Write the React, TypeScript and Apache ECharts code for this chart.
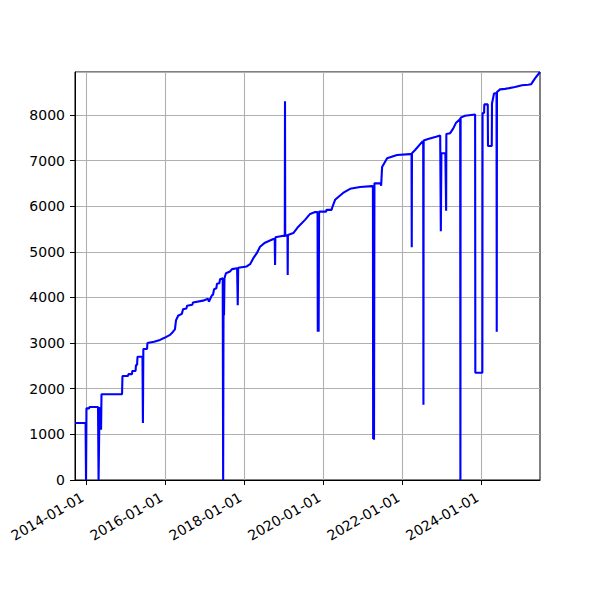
import React, { useEffect, useRef } from "react";
import * as echarts from "echarts";

const dates: string[] = [
  "2013-09-21", "2013-12-28", "2014-01-01", "2014-01-05", "2014-01-29", "2014-02-02",
  "2014-04-22", "2014-04-27", "2014-05-06", "2014-05-10", "2014-05-15", "2014-05-20",
  "2014-05-24", "2014-11-30", "2014-12-04", "2015-01-24", "2015-01-28", "2015-03-02",
  "2015-03-05", "2015-04-04", "2015-04-08", "2015-04-18", "2015-04-22", "2015-06-07",
  "2015-06-11", "2015-06-15", "2015-07-19", "2015-07-23", "2015-09-22", "2015-11-16",
  "2015-12-23", "2016-02-17", "2016-03-16", "2016-04-02", "2016-04-12", "2016-04-25",
  "2016-05-01", "2016-06-05", "2016-06-16", "2016-07-18", "2016-07-23", "2016-09-10",
  "2016-09-16", "2016-12-18", "2017-02-02", "2017-02-11", "2017-03-11", "2017-03-20",
  "2017-03-30", "2017-04-20", "2017-04-26", "2017-05-18", "2017-05-24", "2017-06-18",
  "2017-06-22", "2017-06-26", "2017-06-30", "2017-07-04", "2017-07-18", "2017-08-24",
  "2017-09-12", "2017-10-29", "2017-11-04", "2017-11-08", "2018-01-26", "2018-02-26",
  "2018-03-28", "2018-04-29", "2018-05-29", "2018-07-14", "2018-09-29", "2018-10-12",
  "2018-10-15", "2018-10-18", "2018-12-31", "2019-01-13", "2019-01-15", "2019-01-17",
  "2019-02-07", "2019-02-09", "2019-02-11", "2019-04-02", "2019-05-18", "2019-07-19",
  "2019-09-04", "2019-10-20", "2019-11-12", "2019-11-14", "2019-11-18", "2019-11-22",
  "2019-11-26", "2019-11-30", "2020-01-30", "2020-02-03", "2020-03-21", "2020-03-25",
  "2020-04-22", "2020-07-05", "2020-09-08", "2020-12-09", "2021-03-30", "2021-04-07",
  "2021-04-09", "2021-04-13", "2021-04-17", "2021-04-21", "2021-06-17", "2021-06-22",
  "2021-07-01", "2021-08-16", "2021-11-16", "2022-03-17", "2022-03-30", "2022-04-01",
  "2022-04-03", "2022-05-02", "2022-07-06", "2022-07-16", "2022-07-18", "2022-07-20",
  "2022-08-30", "2022-11-12", "2022-12-20", "2022-12-24", "2022-12-26", "2022-12-31",
  "2023-02-06", "2023-02-11", "2023-02-13", "2023-02-15", "2023-03-22", "2023-04-19",
  "2023-05-16", "2023-06-18", "2023-06-23", "2023-06-25", "2023-06-27", "2023-08-07",
  "2023-11-08", "2023-11-10", "2024-01-14", "2024-01-16", "2024-01-30", "2024-02-01",
  "2024-03-04", "2024-03-06", "2024-04-10", "2024-04-12", "2024-05-01", "2024-05-24",
  "2024-05-26", "2024-05-28", "2024-06-26", "2024-08-11", "2024-11-11", "2025-01-15",
  "2025-03-12", "2025-04-08", "2025-05-15", "2025-06-30",
];

const values: number[] = [
  1250, 1250, 0, 1570, 1570, 1600,
  1600, 0, 1600, 1100, 1600, 1100,
  1880, 1880, 2280, 2280, 2320, 2320,
  2390, 2390, 2520, 2520, 2700, 2700,
  1250, 2870, 2870, 3000, 3030, 3070,
  3110, 3180, 3250, 3300, 3500, 3560,
  3600, 3640, 3740, 3760, 3820, 3840,
  3890, 3930, 3970, 3910, 4050, 4060,
  4180, 4200, 4300, 4310, 4400, 4420,
  0, 4420, 3610, 4420, 4530, 4570,
  4620, 4640, 3830, 4650, 4680, 4730,
  4860, 4970, 5110, 5200, 5280, 5280,
  4710, 5320, 5350, 5350, 8300, 5350,
  5360, 4490, 5370, 5410, 5550, 5700,
  5830, 5870, 5870, 3250, 5870, 3250,
  5880, 5880, 5880, 5920, 5920, 5960,
  6140, 6290, 6380, 6420, 6440, 6440,
  900, 6450, 880, 6500, 6500, 6450,
  6860, 7050, 7120, 7140, 7150, 5100,
  7160, 7230, 7410, 7420, 1650, 7440,
  7470, 7520, 7550, 7550, 5450, 7160,
  7160, 7160, 5900, 7580, 7600, 7700,
  7830, 7900, 7910, 0, 7940, 7980,
  8010, 2350, 2350, 8040, 8040, 8230,
  8230, 7320, 7320, 8250, 8470, 8480,
  3250, 8500, 8560, 8570, 8610, 8650,
  8660, 8670, 8800, 8940,
];

const xTickLabels: string[] = [
  "2014-01-01", "2016-01-01", "2018-01-01", "2020-01-01", "2022-01-01", "2024-01-01",
];

const pad = (n: number) => (n < 10 ? "0" + n : "" + n);
const fmtDate = (t: number) => {
  const d = new Date(t);
  return d.getUTCFullYear() + "-" + pad(d.getUTCMonth() + 1) + "-" + pad(d.getUTCDate());
};

export default function App() {
  const ref = useRef<HTMLDivElement>(null);
  useEffect(() => {
    document.body.style.margin = "0";
    if (!ref.current) return;
    const chart = echarts.init(ref.current, undefined, { renderer: "svg" });
    const ts = dates.map((d) => Date.parse(d));
    const data = ts.map((t, i) => [t, values[i]]);
    const xTicks = xTickLabels.map((d) => Date.parse(d));
    const yMax = Math.max(...values);
    const font = "DejaVu Sans";
    chart.setOption({
      animation: false,
      backgroundColor: "#ffffff",
      grid: {
        left: 75,
        top: 72,
        width: 465,
        height: 408,
        show: true,
        borderColor: "#000000",
        borderWidth: 1,
        containLabel: false,
      },
      xAxis: {
        type: "value",
        min: ts[0],
        max: ts[ts.length - 1],
        axisLine: { show: true, onZero: false, lineStyle: { color: "#000", width: 1 } },
        axisTick: { show: true, length: 5, lineStyle: { color: "#000", width: 1 }, customValues: xTicks },
        axisLabel: {
          customValues: xTicks,
          rotate: 30,
          margin: 14,
          padding: [0, 4, 0, 0],
          color: "#000",
          fontSize: 14,
          fontFamily: font,
          formatter: (v: number) => fmtDate(v),
        },
        splitLine: { show: true, lineStyle: { color: "#b0b0b0", width: 1.1 } },
      },
      yAxis: {
        type: "value",
        min: 0,
        max: yMax,
        interval: 1000,
        axisLine: { show: true, lineStyle: { color: "#000", width: 1 } },
        axisTick: { show: true, length: 5, lineStyle: { color: "#000", width: 1 } },
        axisLabel: {
          margin: 10,
          color: "#000",
          fontSize: 14,
          fontFamily: font,
          showMaxLabel: false,
          formatter: (v: number) => (v % 1000 === 0 ? String(v) : ""),
        },
        splitLine: { show: true, lineStyle: { color: "#b0b0b0", width: 1.1 } },
      },
      series: [
        {
          type: "line",
          data,
          showSymbol: false,
          symbol: "none",
          lineStyle: { color: "#0000ff", width: 2.1 },
          itemStyle: { color: "#0000ff" },
        },
      ],
    });
    return () => chart.dispose();
  }, []);
  return <div ref={ref} style={{ width: 600, height: 600 }} />;
}
